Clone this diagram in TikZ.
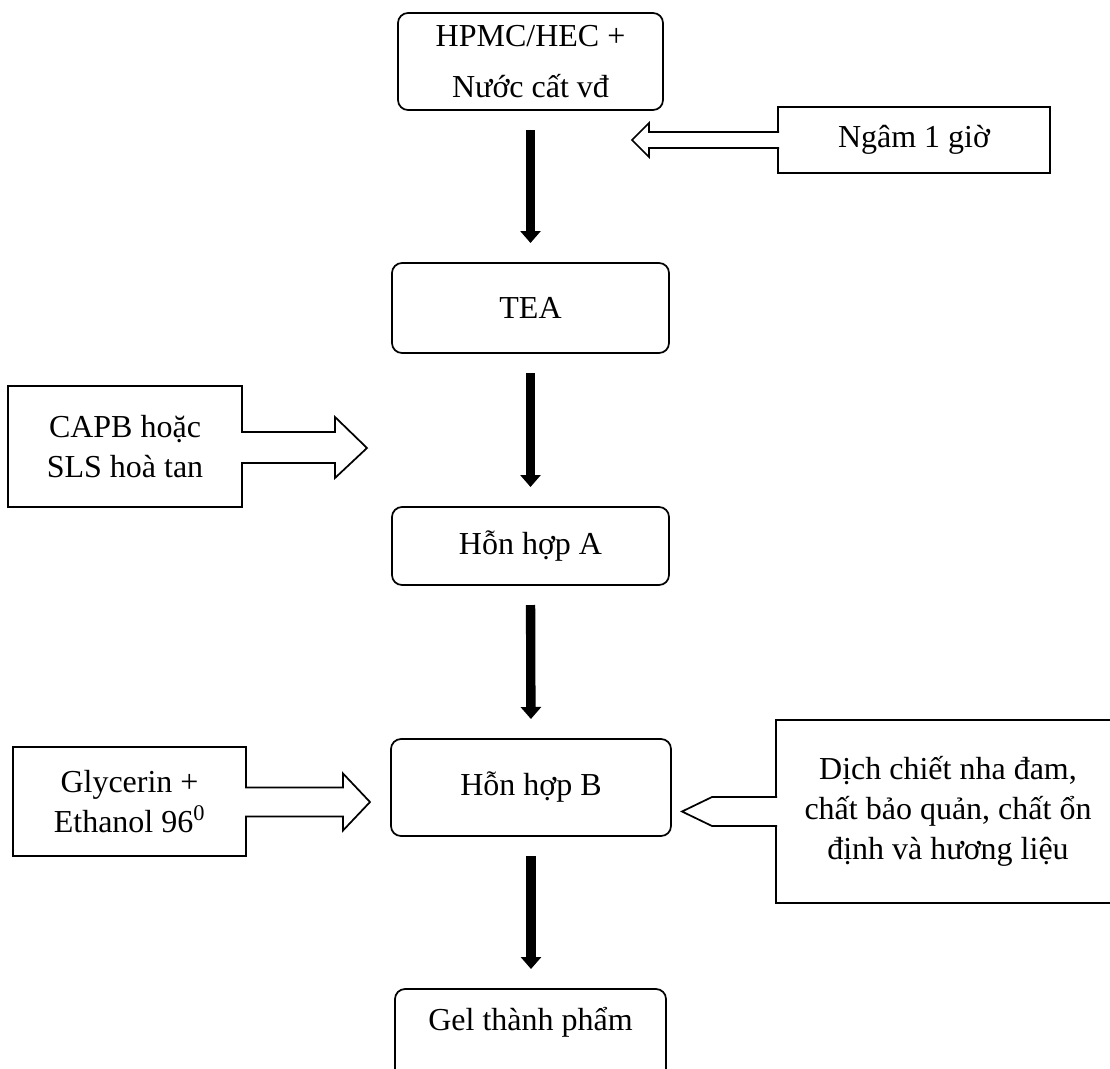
\documentclass[tikz,border=0pt]{standalone}
\usepackage{fontspec}
\setmainfont{Liberation Serif}
\usetikzlibrary{arrows.meta,calc}
\begin{document}
\begin{tikzpicture}[x=0.75pt,y=-0.75pt,
  every node/.style={font=\fontsize{24}{30}\selectfont, align=center, outer sep=0pt, inner sep=0pt},
  proc/.style={draw, line width=1.3pt, rounded corners=7.5pt},
  inbox/.style={draw, line width=1.3pt},
  flow/.style={line width=7pt, -{Triangle[width=15pt,length=9pt]}, shorten <=15pt, shorten >=15pt},
  hollow/.style={draw, fill=white, line width=1.3pt, line join=miter}
]
\clip (0,0) rectangle (1110,1068);
\fill[white] (0,0) rectangle (1110,1068);

% main column
\node[proc, minimum width=198.75pt, minimum height=72.75pt, font=\fontsize{24}{38.25}\selectfont] (hpmc) at (530.5,61.5) {HPMC/HEC +\\Nước cất vđ};
\node[proc, minimum width=207.75pt, minimum height=67.5pt] (tea) at (530.5,308) {TEA};
\node[proc, minimum width=207.75pt, minimum height=58.5pt] (hha) at (530.5,546) {Hỗn hợp A};
\node[proc, minimum width=210pt, minimum height=72.75pt] (hhb) at (531,787.5) {Hỗn hợp B};
\node[proc, anchor=north, minimum width=203.25pt, text height=30.75pt, text depth=45pt] (gel) at (530.5,989) {Gel thành phẩm};

% side boxes
\node[inbox, minimum width=204pt, minimum height=49.5pt] (ngam) at (914,140) {Ngâm 1 giờ};
\node[inbox, minimum width=175.5pt, minimum height=90.75pt] (capb) at (125,446.5) {CAPB hoặc\\SLS hoà tan};
\node[inbox, minimum width=174.75pt, minimum height=81.75pt] (gly) at (129.5,801.5) {Glycerin +\\Ethanol 96\textsuperscript{0}};
\node[inbox, minimum width=258pt, minimum height=137.25pt] (dich) at (948,811.5) {Dịch chiết nha đam,\\chất bảo quản, chất ổn\\định và hương liệu};

% main flow arrows
\draw[flow] (hpmc.south) -- (tea.north);
\draw[flow] (tea.south) -- (hha.north);
\draw[flow] (hha.south) -- (hhb.north);
\draw[flow] (hhb.south) -- (hhb.south |- gel.north);

% hollow arrows
\draw[hollow] ($(ngam.west)+(1,-8)$) -- ++(-130,0) -- ++(0,-9) -- ++(-17,17) -- ++(17,17) -- ++(0,-9) -- ++(130,0);
\draw[hollow] ($(capb.east)+(-1,-14.5)$) -- ++(94,0) -- ++(0,-15) -- ++(32,31) -- ++(-32,30) -- ++(0,-15) -- ++(-94,0);
\draw[hollow] ($(gly.east)+(-1,-14)$) -- ++(98,0) -- ++(0,-14) -- ++(27,28.5) -- ++(-27,28.5) -- ++(0,-14) -- ++(-98,0);
\draw[hollow] ($(dich.west)+(1,-14.5)$) -- ++(-65,0) -- ++(-30,14.5) -- ++(30,14.5) -- ++(65,0);
\end{tikzpicture}
\end{document}
